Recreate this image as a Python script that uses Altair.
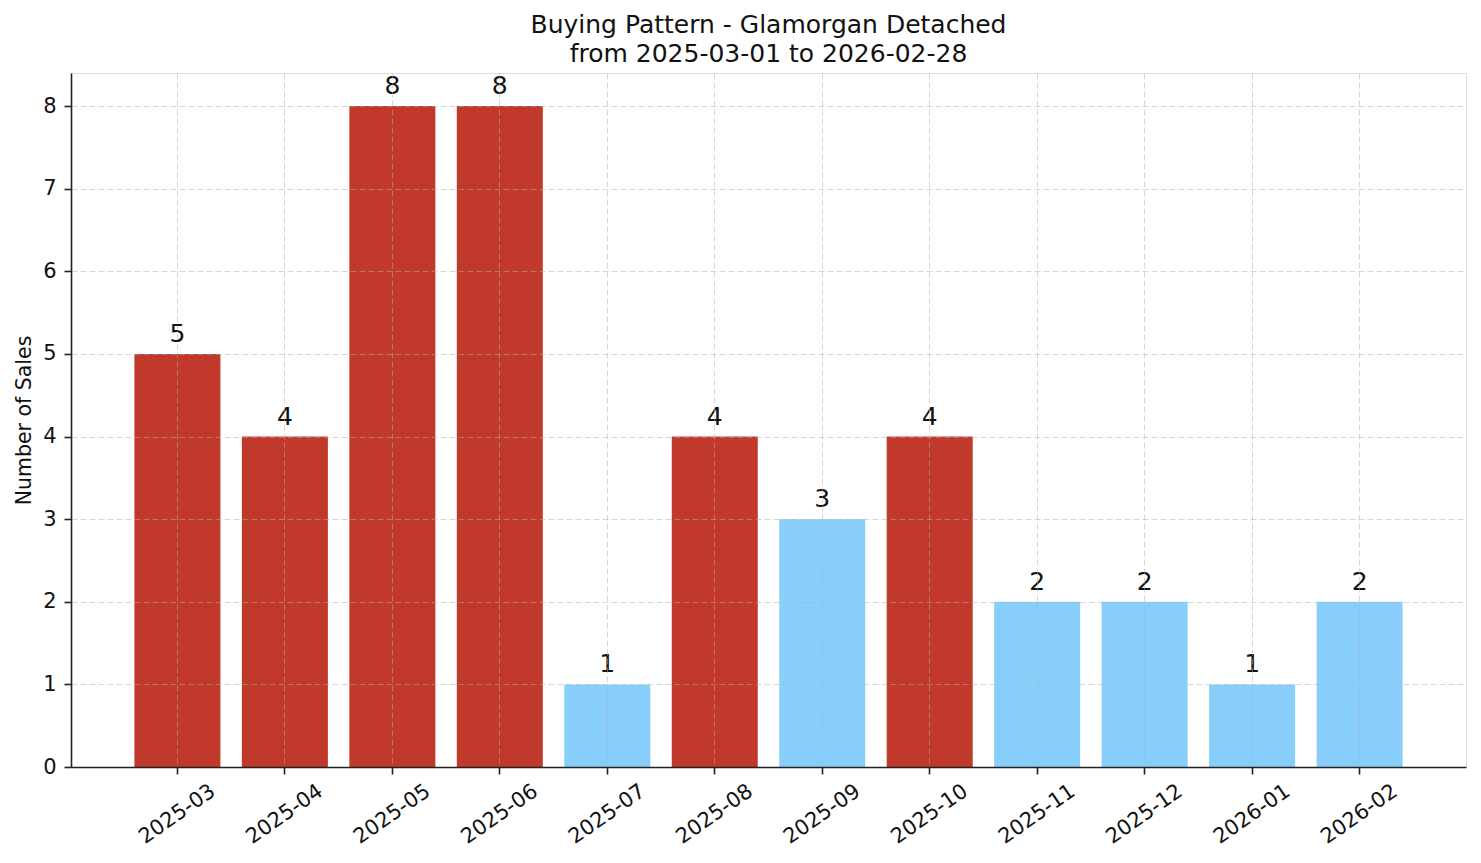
import altair as alt
import pandas as pd

months = ["2025-03", "2025-04", "2025-05", "2025-06", "2025-07", "2025-08",
          "2025-09", "2025-10", "2025-11", "2025-12", "2026-01", "2026-02"]
sales = [5, 4, 8, 8, 1, 4, 3, 4, 2, 2, 1, 2]

df = pd.DataFrame({"month": months, "sales": sales})

RED = "#c0392b"
BLUE = "#87cefa"
FONT = "DejaVu Sans"

x = alt.X("month:N", sort=months, title=None,
          scale=alt.Scale(paddingInner=0.2, paddingOuter=0.59),
          axis=alt.Axis(labelAngle=-35, labelAlign="center", labelBaseline="middle",
                        labelPadding=40, tickSize=7, tickWidth=1.6, tickColor="#222222",
                        domainColor="#222222", domainWidth=1.6, bandPosition=0.5,
                        grid=True, gridColor="#b0b0b0", gridOpacity=0.5, gridDash=[6, 3],
                        gridWidth=1, labelFontSize=21, labelFont=FONT, labelColor="#111111",
                        zindex=1))
y = alt.Y("sales:Q", title="Number of Sales",
          scale=alt.Scale(domain=[0, 8.4], nice=False, zero=True),
          axis=alt.Axis(values=list(range(0, 9)), format="d", tickSize=7, tickWidth=1.6,
                        tickColor="#222222",
                        domainColor="#222222", domainWidth=1.6, labelPadding=8,
                        grid=True, gridColor="#b0b0b0", gridOpacity=0.5, gridDash=[6, 3],
                        gridWidth=1, labelFontSize=21, labelFont=FONT, labelColor="#111111",
                        titleFontSize=20.5, titleFont=FONT, titleFontWeight="normal",
                        titleColor="#111111", titleX=-41, titleY=347,
                        titleBaseline="alphabetic", titleAlign="center", zindex=1))

bars = alt.Chart(df).mark_bar(size=86).encode(
    x=x, y=y,
    color=alt.condition(alt.datum.sales >= 4, alt.value(RED), alt.value(BLUE)),
)

labels = alt.Chart(df).mark_text(fontSize=25, font=FONT, baseline="alphabetic",
                                 dy=-12, color="#111111").encode(
    x=alt.X("month:N", sort=months),
    y=alt.Y("sales:Q"),
    text=alt.Text("sales:Q"),
)

chart = alt.layer(bars, labels).properties(
    width=1395, height=694,
    title=alt.TitleParams(
        text=["Buying Pattern - Glamorgan Detached", "from 2025-03-01 to 2026-02-28"],
        fontSize=25, font=FONT, fontWeight="normal", color="#111111",
        anchor="middle", lineHeight=29, offset=6),
    autosize=alt.AutoSizeParams(type="none"),
    padding={"left": 63, "top": 65, "right": 5, "bottom": 87},
).configure_view(stroke=None).configure(background="white")

chart.save("out.html", embed_options={"renderer": "svg", "actions": False})
